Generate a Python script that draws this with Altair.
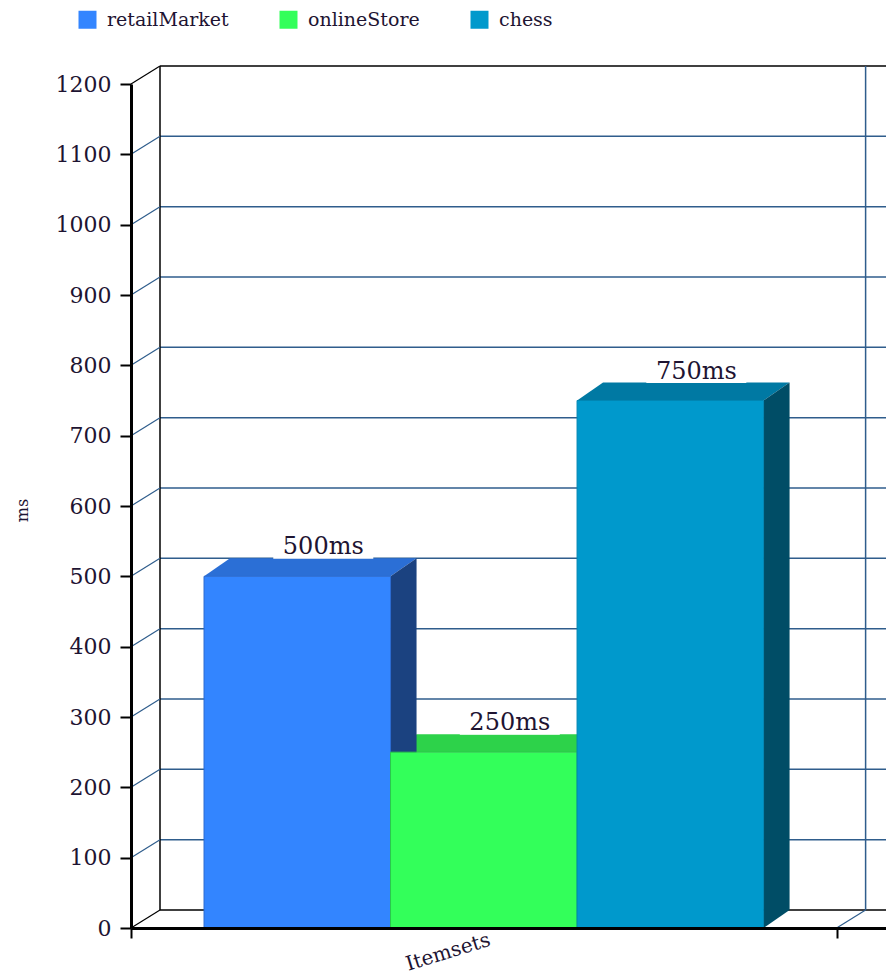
import altair as alt
import pandas as pd

# ---- data -------------------------------------------------------------
series = ["retailMarket", "onlineStore", "chess"]
times_ms = [500, 250, 750]
category = "Itemsets"
y_ticks = [0, 100, 200, 300, 400, 500, 600, 700, 800, 900, 1000, 1100, 1200]

# ---- styling ----------------------------------------------------------
front_colors = ["#3385ff", "#33ff5a", "#0099cc"]
top_colors = ["#2b6fd6", "#2dd24a", "#0079a3"]
side_colors = ["#1b4280", "#1f9a38", "#004d66"]
edge_colors = ["#2a6ad0", "#2bc84b", "#0086b3"]
GRID = "#2f5d8c"
INK = "#1e1432"
FONT = "DejaVu Serif"

# plot area in pixels and the x extent (one category band = 1 unit)
W, H = 755, 844
X_MAX = 1.07
Y_MAX = 1200
PX_X = W / X_MAX
PX_Y = H / Y_MAX

# pseudo-3D depth (pixels) for the back wall and for the bars
WALL_DX, WALL_DY = 29, -18
BAR_DX, BAR_DY = 26, -18
BAR_PAD = 0.1035
BAR_W = (1 - 2 * BAR_PAD) / len(series)

dxd = BAR_DX / PX_X          # bar depth in x units
dyd = -BAR_DY / PX_Y         # bar depth in ms

XS = alt.Scale(domain=[0, X_MAX], nice=False, zero=False)
YS = alt.Scale(domain=[0, Y_MAX], nice=False, zero=False)

X_AXIS = alt.Axis(values=[0, 1], labels=False, title=None, grid=False,
                  domainColor="black", domainWidth=3, tickColor="black",
                  tickWidth=2, tickSize=10, zindex=1)
Y_AXIS = alt.Axis(values=y_ticks, format="d", title="ms", grid=False,
                  domainColor="black", domainWidth=3, tickColor="black",
                  tickWidth=2, tickSize=11, labelFont=FONT, labelFontSize=22,
                  labelColor=INK, labelPadding=9, titleFont=FONT,
                  titleFontSize=16, titleFontWeight="normal", titleColor=INK,
                  titleX=-109, titleY=426, titleAngle=270,
                  titleBaseline="middle", titleAlign="center", zindex=1)


def X(field):
    return alt.X(field, type="quantitative", scale=XS, axis=X_AXIS)


def Y(field):
    return alt.Y(field, type="quantitative", scale=YS, axis=Y_AXIS)


# ---- back wall ----------------------------------------------------------
inner = pd.DataFrame({"v": y_ticks[1:-1], "a": 0.0, "b": X_MAX})
outer = pd.DataFrame({"v": [y_ticks[0], y_ticks[-1]], "a": 0.0, "b": X_MAX})

grid_back = alt.Chart(inner).mark_rule(
    color=GRID, strokeWidth=1.5, xOffset=WALL_DX, x2Offset=WALL_DX,
    yOffset=WALL_DY).encode(x=X("a"), x2="b", y=Y("v"))
frame_back = alt.Chart(outer).mark_rule(
    color="black", strokeWidth=1.5, xOffset=WALL_DX, x2Offset=WALL_DX,
    yOffset=WALL_DY).encode(x=X("a"), x2="b", y=Y("v"))

walls = pd.DataFrame({"x": [0.0, 1.0], "lo": 0, "hi": Y_MAX,
                      "kind": ["left", "right"]})
wall_left = alt.Chart(walls[walls.kind == "left"]).mark_rule(
    color="black", strokeWidth=1.5, xOffset=WALL_DX,
    yOffset=WALL_DY, y2Offset=WALL_DY).encode(x=X("x"), y=Y("lo"), y2="hi")
wall_right = alt.Chart(walls[walls.kind == "right"]).mark_rule(
    color=GRID, strokeWidth=1.5, xOffset=WALL_DX,
    yOffset=WALL_DY, y2Offset=WALL_DY).encode(x=X("x"), y=Y("lo"), y2="hi")

# diagonals joining the front axis ticks to the back wall
diag_inner = pd.DataFrame({"x": 0.0, "v": y_ticks[1:-1]})
diag_outer = pd.DataFrame({"x": [0.0, 0.0], "v": [y_ticks[0], y_ticks[-1]]})
diag_floor = pd.DataFrame({"x": [1.0], "v": [0]})

diag_a = alt.Chart(diag_inner).mark_rule(
    color=GRID, strokeWidth=1.2, x2Offset=WALL_DX, y2Offset=WALL_DY
).encode(x=X("x"), x2="x", y=Y("v"), y2="v")
diag_b = alt.Chart(diag_outer).mark_rule(
    color="black", strokeWidth=1.2, x2Offset=WALL_DX, y2Offset=WALL_DY
).encode(x=X("x"), x2="x", y=Y("v"), y2="v")
diag_c = alt.Chart(diag_floor).mark_rule(
    color=GRID, strokeWidth=1.2, x2Offset=WALL_DX, y2Offset=WALL_DY
).encode(x=X("x"), x2="x", y=Y("v"), y2="v")

# ---- bars ----------------------------------------------------------------
bars = pd.DataFrame({
    "series": series,
    "value": times_ms,
    "x1": [BAR_PAD + i * BAR_W for i in range(len(series))],
})
bars["x2"] = bars["x1"] + BAR_W
bars["xc"] = bars["x1"] + BAR_W / 2
bars["base"] = 0
bars["label"] = [f"{v}ms" for v in times_ms]

side_rows, top_rows = [], []
for s, v, a, b in zip(bars.series, bars.value, bars.x1, bars.x2):
    side_rows += [{"series": s, "x": b, "y": v, "y2": 0},
                  {"series": s, "x": b + dxd, "y": v + dyd, "y2": dyd}]
    top_rows += [{"series": s, "y": v, "x": a, "x2": b},
                 {"series": s, "y": v + dyd, "x": a + dxd, "x2": b + dxd}]
side = pd.DataFrame(side_rows)
top = pd.DataFrame(top_rows)

side_faces = alt.Chart(side).mark_area(orient="vertical").encode(
    x=X("x"), y=Y("y"), y2="y2",
    fill=alt.Fill("series:N", scale=alt.Scale(domain=series, range=side_colors),
                  legend=None))
top_faces = alt.Chart(top).mark_area(orient="horizontal").encode(
    y=Y("y"), x=X("x"), x2="x2",
    fill=alt.Fill("series:N", scale=alt.Scale(domain=series, range=top_colors),
                  legend=None))

legend = alt.Legend(title=None, orient="none", legendX=-53, legendY=-74,
                    direction="horizontal", symbolType="square",
                    symbolSize=324, symbolStrokeWidth=0, labelFont=FONT,
                    labelFontSize=19, labelColor=INK, labelOffset=10,
                    columnPadding=50, padding=0)

front_faces = alt.Chart(bars).mark_rect(strokeWidth=1).encode(
    x=X("x1"), x2="x2", y=Y("value"), y2="base",
    fill=alt.Fill("series:N", scale=alt.Scale(domain=series, range=front_colors),
                  sort=series, legend=legend),
    stroke=alt.Stroke("series:N",
                      scale=alt.Scale(domain=series, range=edge_colors),
                      legend=None))

# value labels sit on a white plate above the back edge of each bar top
plates = alt.Chart(bars).mark_rect(
    color="white", xOffset=BAR_DX - 50, x2Offset=BAR_DX + 50,
    yOffset=BAR_DY - 26, y2Offset=BAR_DY + 0.5
).encode(x=X("xc"), x2="xc", y=Y("value"), y2="value")
labels = alt.Chart(bars).mark_text(
    font=FONT, fontSize=24, color=INK, baseline="alphabetic",
    xOffset=BAR_DX, yOffset=BAR_DY - 4
).encode(x=X("xc"), y=Y("value"), text="label:N")

cat = pd.DataFrame({"x": [0.5], "y": [0], "label": [category]})
cat_label = alt.Chart(cat).mark_text(
    font=FONT, fontSize=20, color=INK, angle=343, align="right",
    baseline="top", yOffset=2, xOffset=3
).encode(x=X("x"), y=Y("y"), text="label:N")

chart = alt.layer(
    grid_back, frame_back, wall_left, wall_right, diag_a, diag_b, diag_c,
    top_faces, side_faces, front_faces, plates, labels, cat_label
).resolve_scale(
    fill="independent", stroke="independent"
).properties(
    width=W, height=H,
    padding={"left": 131, "top": 84, "right": 0, "bottom": 46},
    autosize=alt.AutoSizeParams(type="none"),
    background="white",
).configure_view(stroke=None)

chart.save("out.html", embed_options={"renderer": "svg", "actions": False})
